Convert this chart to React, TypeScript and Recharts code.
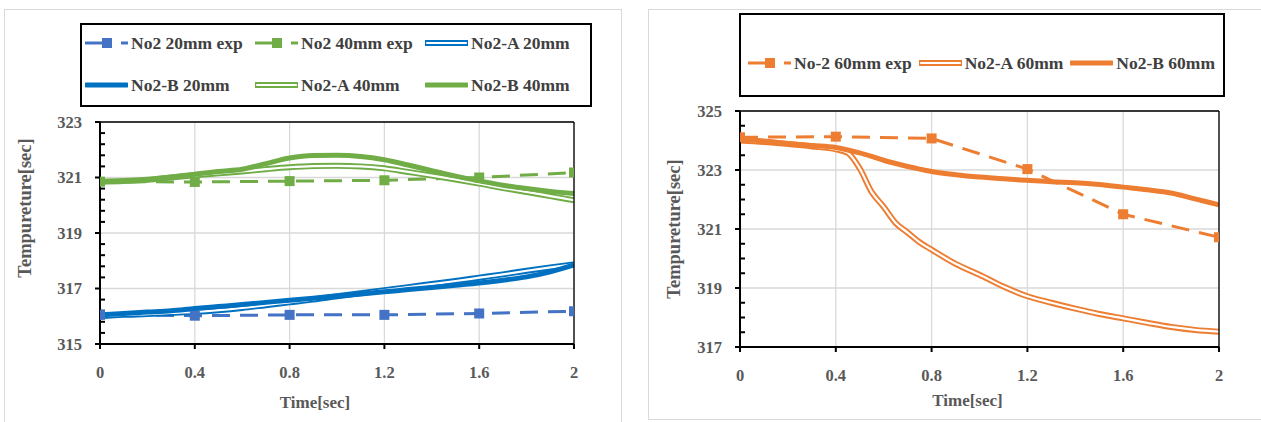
import React from 'react';
import { LineChart, Line, XAxis, YAxis, CartesianGrid, Label } from 'recharts';

const FONT = "'Liberation Serif', serif";
const TICK_COLOR = '#595959';
const LEGEND_COLOR = '#404040';

// ---------- shared axis data ----------
const xTicks = [0, 0.4, 0.8, 1.2, 1.6, 2];
const xTickLabels = ['0', '0.4', '0.8', '1.2', '1.6', '2'];
const leftYTicks = [315, 317, 319, 321, 323];
const rightYTicks = [317, 319, 321, 323, 325];
const expTimes = [0, 0.4, 0.8, 1.2, 1.6, 2];

// ---------- left chart (20mm / 40mm) ----------
const leftModelTimes = [0, 0.1, 0.2, 0.3, 0.4, 0.5, 0.6, 0.7, 0.8, 0.9, 1.0, 1.1, 1.2, 1.3, 1.4, 1.5, 1.6, 1.7, 1.8, 1.9, 2.0];
const no2Exp20 = [316.05, 316.02, 316.05, 316.05, 316.1, 316.18];
const no2Exp40 = [320.85, 320.84, 320.87, 320.9, 321.0, 321.18];
const no2A20 = [316.0, 316.05, 316.08, 316.12, 316.16, 316.22, 316.3, 316.4, 316.5, 316.6, 316.72, 316.83, 316.94, 317.05, 317.16, 317.27, 317.39, 317.51, 317.64, 317.76, 317.87];
const no2B20 = [316.05, 316.1, 316.15, 316.2, 316.28, 316.35, 316.42, 316.5, 316.58, 316.65, 316.73, 316.8, 316.88, 316.96, 317.04, 317.12, 317.2, 317.3, 317.42, 317.6, 317.85];
const no2A40 = [320.85, 320.87, 320.92, 321.0, 321.08, 321.15, 321.22, 321.3, 321.37, 321.41, 321.42, 321.4, 321.33, 321.2, 321.07, 320.93, 320.78, 320.62, 320.48, 320.33, 320.18];
const no2B40 = [320.85, 320.87, 320.92, 321.02, 321.12, 321.22, 321.3, 321.5, 321.7, 321.79, 321.8, 321.76, 321.64, 321.45, 321.25, 321.05, 320.88, 320.72, 320.6, 320.5, 320.42];

// ---------- right chart (60mm) ----------
const rightModelTimes = [0, 0.1, 0.2, 0.3, 0.4, 0.45, 0.5, 0.55, 0.6, 0.65, 0.7, 0.75, 0.8, 0.9, 1.0, 1.1, 1.2, 1.3, 1.4, 1.5, 1.6, 1.7, 1.8, 1.9, 2.0];
const no2Exp60 = [324.11, 324.13, 324.07, 323.03, 321.5, 320.72];
const no2A60 = [324.0, 323.95, 323.88, 323.8, 323.7, 323.58, 323.05, 322.25, 321.75, 321.2, 320.88, 320.55, 320.3, 319.82, 319.45, 319.05, 318.72, 318.5, 318.3, 318.12, 317.97, 317.82, 317.68, 317.58, 317.52];
const no2B60 = [324.05, 323.98, 323.9, 323.83, 323.76, 323.68, 323.58, 323.46, 323.33, 323.22, 323.12, 323.03, 322.95, 322.84, 322.76, 322.7, 322.65, 322.6, 322.57, 322.51, 322.42, 322.33, 322.22, 322.02, 321.82];

// ---------- colours ----------
const BLUE_EXP = '#4472C4';
const BLUE = '#0070C0';
const GREEN = '#70AD47';
const ORANGE = '#ED7D31';

type Row = { t: number; v: number };
const toRows = (ts: number[], vs: number[]): Row[] => ts.map((t, i) => ({ t, v: vs[i] }));

const minorTicks = (min: number, max: number, step: number, majors: number[]) => {
  const out: number[] = [];
  const n = Math.round((max - min) / step);
  for (let i = 0; i <= n; i++) {
    const v = Math.round((min + i * step) * 1000) / 1000;
    if (!majors.some((m) => Math.abs(m - v) < 1e-6)) out.push(v);
  }
  return out;
};

const squareDot = (color: string) => (props: any) => {
  const { cx, cy, index } = props;
  if (cx == null || cy == null) return <g key={`d${index}`} />;
  return <rect key={`d${index}`} x={cx - 5} y={cy - 5} width={10} height={10} fill={color} />;
};

type SeriesKind = 'exp' | 'double' | 'thick';
type Series = { name: string; kind: SeriesKind; color: string; rows: Row[] };

const leftSeries: Series[] = [
  { name: 'No2 20mm exp', kind: 'exp', color: BLUE_EXP, rows: toRows(expTimes, no2Exp20) },
  { name: 'No2 40mm exp', kind: 'exp', color: GREEN, rows: toRows(expTimes, no2Exp40) },
  { name: 'No2-A 20mm', kind: 'double', color: BLUE, rows: toRows(leftModelTimes, no2A20) },
  { name: 'No2-B 20mm', kind: 'thick', color: BLUE, rows: toRows(leftModelTimes, no2B20) },
  { name: 'No2-A 40mm', kind: 'double', color: GREEN, rows: toRows(leftModelTimes, no2A40) },
  { name: 'No2-B 40mm', kind: 'thick', color: GREEN, rows: toRows(leftModelTimes, no2B40) },
];

const rightSeries: Series[] = [
  { name: 'No-2 60mm exp', kind: 'exp', color: ORANGE, rows: toRows(expTimes, no2Exp60) },
  { name: 'No2-A 60mm', kind: 'double', color: ORANGE, rows: toRows(rightModelTimes, no2A60) },
  { name: 'No2-B 60mm', kind: 'thick', color: ORANGE, rows: toRows(rightModelTimes, no2B60) },
];

const renderSeries = (s: Series) => {
  if (s.kind === 'exp') {
    return [
      <Line key={s.name} data={s.rows} dataKey="v" name={s.name} type="linear" stroke={s.color} strokeWidth={3}
        strokeDasharray="18 10" dot={squareDot(s.color)} activeDot={false} isAnimationActive={false} />,
    ];
  }
  if (s.kind === 'thick') {
    return [
      <Line key={s.name} data={s.rows} dataKey="v" name={s.name} type="monotone" stroke={s.color} strokeWidth={5}
        dot={false} activeDot={false} isAnimationActive={false} />,
    ];
  }
  return [
    <Line key={s.name + '-o'} data={s.rows} dataKey="v" name={s.name} type="monotone" stroke={s.color} strokeWidth={6}
      dot={false} activeDot={false} isAnimationActive={false} />,
    <Line key={s.name + '-i'} data={s.rows} dataKey="v" name={s.name + ' inner'} type="monotone" stroke="#ffffff" strokeWidth={2.2}
      dot={false} activeDot={false} isAnimationActive={false} />,
  ];
};

const Swatch = ({ s }: { s: Series }) => {
  const w = 43;
  const h = 14;
  const y = h / 2;
  if (s.kind === 'exp') {
    return (
      <svg width={w} height={h} style={{ display: 'block', flex: 'none' }}>
        <line x1={0} y1={y} x2={22} y2={y} stroke={s.color} strokeWidth={3} />
        <rect x={17} y={y - 5} width={10} height={10} fill={s.color} />
        <line x1={36} y1={y} x2={43} y2={y} stroke={s.color} strokeWidth={3} />
      </svg>
    );
  }
  if (s.kind === 'thick') {
    return (
      <svg width={w} height={h} style={{ display: 'block', flex: 'none' }}>
        <line x1={1} y1={y} x2={w - 1} y2={y} stroke={s.color} strokeWidth={5} strokeLinecap="round" />
      </svg>
    );
  }
  return (
    <svg width={w} height={h} style={{ display: 'block', flex: 'none' }}>
      <line x1={1} y1={y} x2={w - 1} y2={y} stroke={s.color} strokeWidth={6} strokeLinecap="round" />
      <line x1={2} y1={y} x2={w - 2} y2={y} stroke="#ffffff" strokeWidth={2.2} strokeLinecap="round" />
    </svg>
  );
};

const LegendItem = ({ s }: { s: Series }) => (
  <div style={{ display: 'flex', alignItems: 'center', gap: 3, whiteSpace: 'nowrap' }}>
    <Swatch s={s} />
    <span style={{ fontFamily: FONT, fontWeight: 'bold', fontSize: 17.5, color: LEGEND_COLOR, lineHeight: '20px' }}>{s.name}</span>
  </div>
);

const yTitle = (dx: number, shift: number) => (props: any) => {
  const vb = props.viewBox || { x: 0, y: 0, width: 0, height: 0 };
  const cx = vb.x + dx;
  const cy = vb.y + vb.height / 2 + shift;
  return (
    <text x={cx} y={cy} transform={`rotate(-90 ${cx} ${cy})`} textAnchor="middle" dominantBaseline="central"
      fontFamily={FONT} fontWeight="bold" fontSize={18.5} fill={TICK_COLOR}>
      Tempureture[sec]
    </text>
  );
};

const xTitle = (dy: number, shift: number) => (props: any) => {
  const vb = props.viewBox || { x: 0, y: 0, width: 0, height: 0 };
  const cx = vb.x + vb.width / 2 + shift;
  const cy = vb.y + dy;
  return (
    <text x={cx} y={cy} textAnchor="middle" dominantBaseline="central" fontFamily={FONT} fontWeight="bold" fontSize={17} fill={TICK_COLOR}>
      Time[sec]
    </text>
  );
};

const tickStyle = { fontFamily: FONT, fontWeight: 'bold', fontSize: 16.5, fill: TICK_COLOR };
const xFmt = (v: number) => {
  const i = xTicks.findIndex((t) => Math.abs(t - v) < 1e-9);
  return i >= 0 ? xTickLabels[i] : String(v);
};
const blankFmt = () => '';

type PanelProps = {
  series: Series[];
  width: number;
  height: number;
  margin: { top: number; right: number; bottom: number; left: number };
  yDomain: [number, number];
  yTicks: number[];
  yMinorStep: number;
  yTitleDx: number;
  yTitleShift: number;
  xTitleDy: number;
  xTitleShift: number;
};

const Panel = (p: PanelProps) => {
  const xMinor = minorTicks(0, 2, 0.08, xTicks);
  const yMinor = minorTicks(p.yDomain[0], p.yDomain[1], p.yMinorStep, p.yTicks);
  return (
    <LineChart width={p.width} height={p.height} margin={p.margin}>
      <CartesianGrid stroke="#d9d9d9" strokeWidth={1.3} />
      <XAxis dataKey="t" type="number" domain={[0, 2]} ticks={xTicks} tickFormatter={xFmt} allowDataOverflow
        height={30} tickSize={5} tickMargin={17} tick={tickStyle}
        axisLine={{ stroke: '#000', strokeWidth: 2 }} tickLine={{ stroke: '#000', strokeWidth: 2 }}>
        <Label content={xTitle(p.xTitleDy, p.xTitleShift)} />
      </XAxis>
      <XAxis xAxisId="minorX" type="number" domain={[0, 2]} ticks={xMinor} allowDataOverflow mirror interval={0}
        tick={{ fontSize: 1 }} tickFormatter={blankFmt} tickSize={5} axisLine={false} tickLine={{ stroke: '#000', strokeWidth: 2 }} />
      <XAxis xAxisId="top" orientation="top" type="number" domain={[0, 2]} allowDataOverflow mirror
        tick={false} tickLine={false} axisLine={{ stroke: '#000', strokeWidth: 1.3 }} />
      <YAxis type="number" domain={p.yDomain} ticks={p.yTicks} allowDataOverflow width={100}
        tickSize={5} tickMargin={13} tick={tickStyle}
        axisLine={{ stroke: '#000', strokeWidth: 2 }} tickLine={{ stroke: '#000', strokeWidth: 2 }}>
        <Label content={yTitle(p.yTitleDx, p.yTitleShift)} />
      </YAxis>
      <YAxis yAxisId="minorY" type="number" domain={p.yDomain} ticks={yMinor} allowDataOverflow mirror interval={0}
        tick={{ fontSize: 1 }} tickFormatter={blankFmt} tickSize={5} axisLine={false} tickLine={{ stroke: '#000', strokeWidth: 2 }} />
      <YAxis yAxisId="right" orientation="right" type="number" domain={p.yDomain} allowDataOverflow mirror
        tick={false} tickLine={false} axisLine={{ stroke: '#000', strokeWidth: 1.3 }} />
      {p.series.flatMap(renderSeries)}
    </LineChart>
  );
};

export default function App() {
  return (
    <div style={{ position: 'absolute', left: 0, top: 0, width: 1261, height: 422, overflow: 'hidden', background: '#fff' }}>
      {/* panel frames */}
      <div style={{ position: 'absolute', left: 4, top: 9, width: 618, height: 430, border: '1px solid #d9d9d9', boxSizing: 'border-box' }} />
      <div style={{ position: 'absolute', left: 648, top: 9, width: 630, height: 411, border: '1px solid #d9d9d9', boxSizing: 'border-box' }} />

      {/* left chart */}
      <div style={{ position: 'absolute', left: 0, top: 0 }}>
        <Panel series={leftSeries} width={630} height={422}
          margin={{ top: 122, right: 56, bottom: 48, left: 0 }}
          yDomain={[315, 323]} yTicks={leftYTicks} yMinorStep={0.4}
          yTitleDx={25} yTitleShift={-25} xTitleDy={58} xTitleShift={-22} />
      </div>
      {/* left legend */}
      <div style={{
        position: 'absolute', left: 80, top: 23, width: 512, height: 84, border: '2px solid #000', boxSizing: 'border-box',
        display: 'grid', gridTemplateColumns: '170px 170px 170px', gridAutoRows: '24px', rowGap: 18,
        paddingTop: 6, paddingLeft: 3,
      }}>
        {leftSeries.map((s) => <LegendItem key={s.name} s={s} />)}
      </div>

      {/* right chart */}
      <div style={{ position: 'absolute', left: 640, top: 0 }}>
        <Panel series={rightSeries} width={621} height={422}
          margin={{ top: 111, right: 42, bottom: 45, left: 0 }}
          yDomain={[317, 325]} yTicks={rightYTicks} yMinorStep={0.5}
          yTitleDx={33.5} yTitleShift={0} xTitleDy={53} xTitleShift={-12} />
      </div>
      {/* right legend */}
      <div style={{
        position: 'absolute', left: 739, top: 13, width: 486, height: 84, border: '2px solid #000', boxSizing: 'border-box',
        display: 'flex', alignItems: 'flex-start', gap: 7, paddingTop: 38, paddingLeft: 7,
      }}>
        {rightSeries.map((s) => <LegendItem key={s.name} s={s} />)}
      </div>
    </div>
  );
}
